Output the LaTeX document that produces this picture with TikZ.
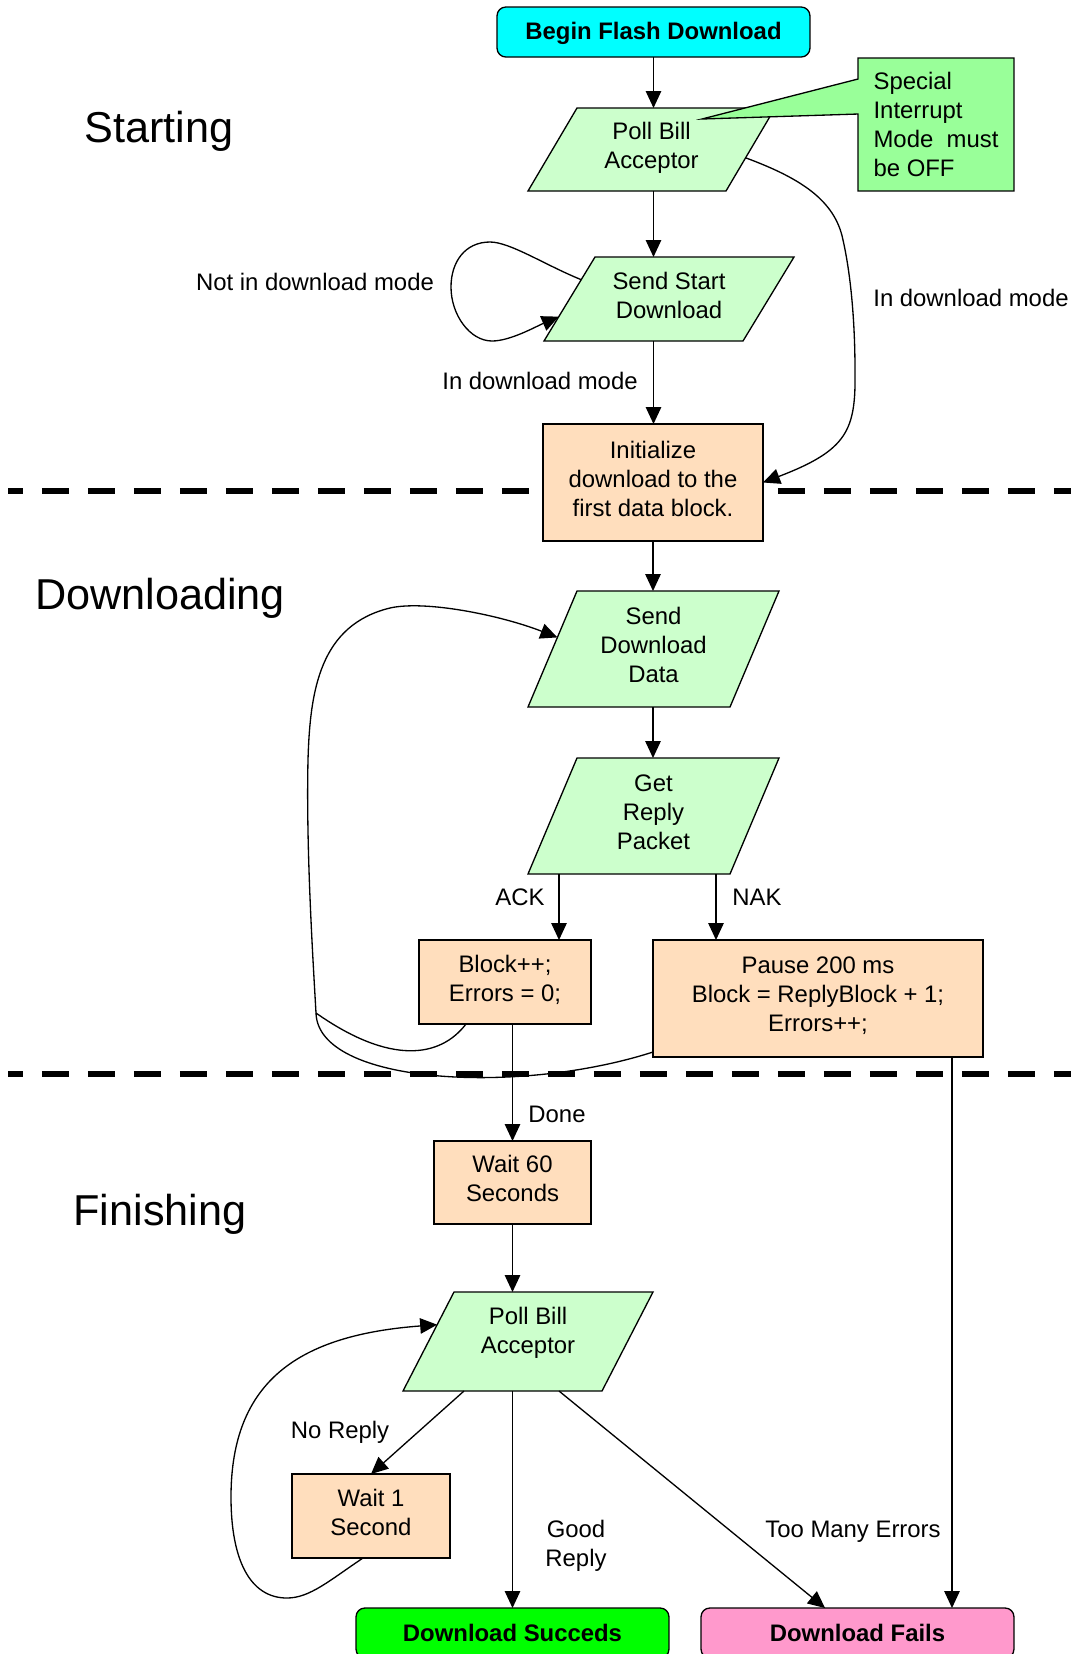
\documentclass[tikz,border=0pt]{standalone}
\usepackage{fontspec}
\setmainfont{Liberation Sans}
\usetikzlibrary{arrows.meta,calc}
\definecolor{cyanbox}{RGB}{0,255,255}
\definecolor{paragreen}{RGB}{204,255,204}
\definecolor{calloutgreen}{RGB}{153,255,153}
\definecolor{peach}{RGB}{255,222,189}
\definecolor{succgreen}{RGB}{0,255,0}
\definecolor{failpink}{RGB}{255,153,204}
% #1 node options, #2 name, #3 left, #4 right, #5 top, #6 bottom, #7 slant, #8 text
\newcommand\ioshape[8][]{%
  \filldraw[iostyle] (#3,#6) coordinate (#2-bl) -- (#4-#7,#6) coordinate (#2-br)
     -- (#4,#5) coordinate (#2-tr) -- (#3+#7,#5) coordinate (#2-tl) -- cycle;
  \node[txt, text depth=4.6pt, minimum width={(#4-#3)*0.02cm}, minimum height={(#6-#5)*0.02cm}, #1]
     (#2) at ({(#3+#4)/2},{(#5+#6)/2}) {#8};%
}
\begin{document}
\begin{tikzpicture}[x=0.02cm,y=-0.02cm,
  txt/.style={font=\fontsize{13.6}{16.5}\selectfont, align=center, inner sep=0pt, outer sep=0pt},
  lbl/.style={txt},
  sectitle/.style={font=\fontsize{24.6}{29}\selectfont, inner sep=0pt},
  procbox/.style={txt, draw, line width=0.75pt, fill=peach, text depth=4.6pt},
  iostyle/.style={draw, line width=0.75pt, fill=paragreen},
  termbox/.style={txt, draw, line width=0.75pt, rounded corners=5pt, font=\fontsize{13.6}{16.5}\selectfont\bfseries},
  arr/.style={line width=0.75pt, -{Triangle[length=0.34cm,width=0.31cm]}},
  conn/.style={line width=0.75pt},
  sepline/.style={line width=0.13cm, dash pattern=on 0.54cm off 0.38cm, dash phase=0.24cm}
]
\fill[white] (0,0) rectangle (1071,1654);
\useasboundingbox (0,0) rectangle (1071,1654);

% separators
\draw[sepline] (8,491) -- (1071,491);
\draw[sepline] (8,1074) -- (1071,1074);

% section titles
\node[sectitle] (tstart) at (159,131) {Starting};
\node[sectitle] (tdown) at (160,598) {Downloading};
\node[sectitle] (tfin) at (160,1214) {Finishing};

% nodes
\node[termbox, fill=cyanbox, minimum width=6.26cm, minimum height=1cm, text depth=1pt] (begin) at (653.5,32) {Begin Flash Download};
\ioshape{poll1}{528}{775}{108}{191}{49}{Poll Bill\\Acceptor}

\node[txt, align=left, fill=calloutgreen, minimum width=3.12cm, minimum height=2.66cm] (note) at (936,124.5) {Special\\Interrupt\\Mode~ must\\be OFF};
\coordinate (notetip) at (702,119);
\fill[calloutgreen] ($(note.north west)+(0,21)$) -- (notetip) -- ($(note.north west)+(0,56)$) -- cycle;
\draw[conn] ($(note.north west)+(0,21)$) -- (notetip) -- ($(note.north west)+(0,56)$) -- (note.south west) -- (note.south east) -- (note.north east) -- (note.north west) -- cycle;

\ioshape{ss}{544}{794}{257}{341}{51}{Send Start\\Download}
\node[procbox, minimum width=4.4cm, minimum height=2.34cm] (init) at (653,482.5) {Initialize\\download to the\\first data block.};
\ioshape{sdd}{528}{779}{591}{707}{49}{Send\\Download\\Data}
\ioshape{grp}{528}{779}{758}{874}{49}{Get\\Reply\\Packet}
\node[procbox, minimum width=3.44cm, minimum height=1.68cm] (block) at (505,982) {Block++;\\Errors = 0;};
\node[procbox, minimum width=6.6cm, minimum height=2.34cm] (pause) at (818,998.5) {Pause 200 ms\\Block = ReplyBlock + 1;\\Errors++;};
\node[procbox, minimum width=3.14cm, minimum height=1.66cm] (wait60) at (512.5,1182.5) {Wait 60\\Seconds};
\ioshape[text depth=13pt]{poll2}{403}{653}{1292}{1391}{51}{Poll Bill\\Acceptor}
\node[procbox, minimum width=3.16cm, minimum height=1.68cm] (wait1) at (371,1516) {Wait 1\\Second};
\node[termbox, fill=succgreen, minimum width=6.26cm, minimum height=1cm] (succ) at (512.5,1633) {Download Succeds};
\node[termbox, fill=failpink, minimum width=6.26cm, minimum height=1cm] (fail) at (857.5,1633) {Download Fails};

% labels
\node[lbl] (lnot) at (315,282) {Not in download mode};
\node[lbl] (lin1) at (540,381) {In download mode};
\node[lbl] (lin2) at (971,298) {In download mode};
\node[lbl] (lack) at (520,897) {ACK};
\node[lbl] (lnak) at (757,897) {NAK};
\node[lbl] (ldone) at (557,1114) {Done};
\node[lbl] (lnorep) at (340,1432) {No Reply};
\node[lbl] (lgood) at (576,1546) {Good\\Reply};
\node[lbl] (ltoo) at (853,1532) {Too Many Errors};

% connectors
\draw[arr] (begin.south) -- (begin.south |- poll1.north);
\draw[arr] (begin.south |- poll1.south) -- (begin.south |- ss.north);
\draw[arr] (begin.south |- ss.south) -- (begin.south |- init.north);
\draw[arr] (init.south) -- (init.south |- sdd.north);
\draw[arr] (init.south |- sdd.south) -- (init.south |- grp.north);
\coordinate (ackx) at (559,900);
\coordinate (nakx) at (716,900);
\draw[arr] (ackx |- grp.south) -- (ackx |- block.north);
\draw[arr] (nakx |- grp.south) -- (nakx |- pause.north);
\draw[arr] (wait60.north |- block.south) -- (wait60.north);
\draw[arr] (wait60.south) -- (wait60.south |- poll2.north);
\draw[arr] (wait60.south |- poll2.south) -- (wait60.south |- succ.north);
\draw[arr] ($(poll2-bl)+(61,0)$) -- (wait1.north);
\draw[arr] ($(poll2-bl)+(156,0)$) -- ($(fail.north west)+(124,0)$);
\coordinate (failx) at (952,1300);
\draw[arr] (failx |- pause.south) -- (failx |- fail.north);

% poll1 -> init (in download mode)
\draw[arr] ($(poll1-tr)!0.6!(poll1-br)$) .. controls (800,178) and (835,200) .. (843,240)
  .. controls (852,280) and (855,330) .. (855,370)
  .. controls (856,430) and (848,450) .. (init.east);

% send start self loop
\draw[arr] ($(ss-tl)!0.27!(ss-bl)$) .. controls (545,265) and (510,242) .. (490,242)
  .. controls (465,242) and (451,262) .. (451,287)
  .. controls (451,315) and (470,341) .. (492,341)
  .. controls (510,341) and (535,327) .. ($(ss-tl)!0.71!(ss-bl)$);

% download loops
\coordinate (loopjoin) at (316,1013);
\draw[conn] ($(block.south west)+(47,0)$) .. controls (440,1058) and (390,1065) .. (loopjoin);
\draw[arr] ($(pause.south west)+(0,-5)$) .. controls (520,1095) and (318,1085) .. (loopjoin)
  .. controls (313,960) and (306,850) .. (308,760)
  .. controls (310,690) and (320,625) .. (390,608)
  .. controls (425,600) and (500,615) .. ($(sdd-tl)!0.4!(sdd-bl)$);

% wait 1 loop
\draw[arr] ($(wait1.south west)+(71,0)$) .. controls (330,1580) and (310,1598) .. (287,1598)
  .. controls (250,1598) and (231,1560) .. (231,1497)
  .. controls (231,1380) and (300,1335) .. ($(poll2-tl)!0.33!(poll2-bl)$);
\end{tikzpicture}
\end{document}
